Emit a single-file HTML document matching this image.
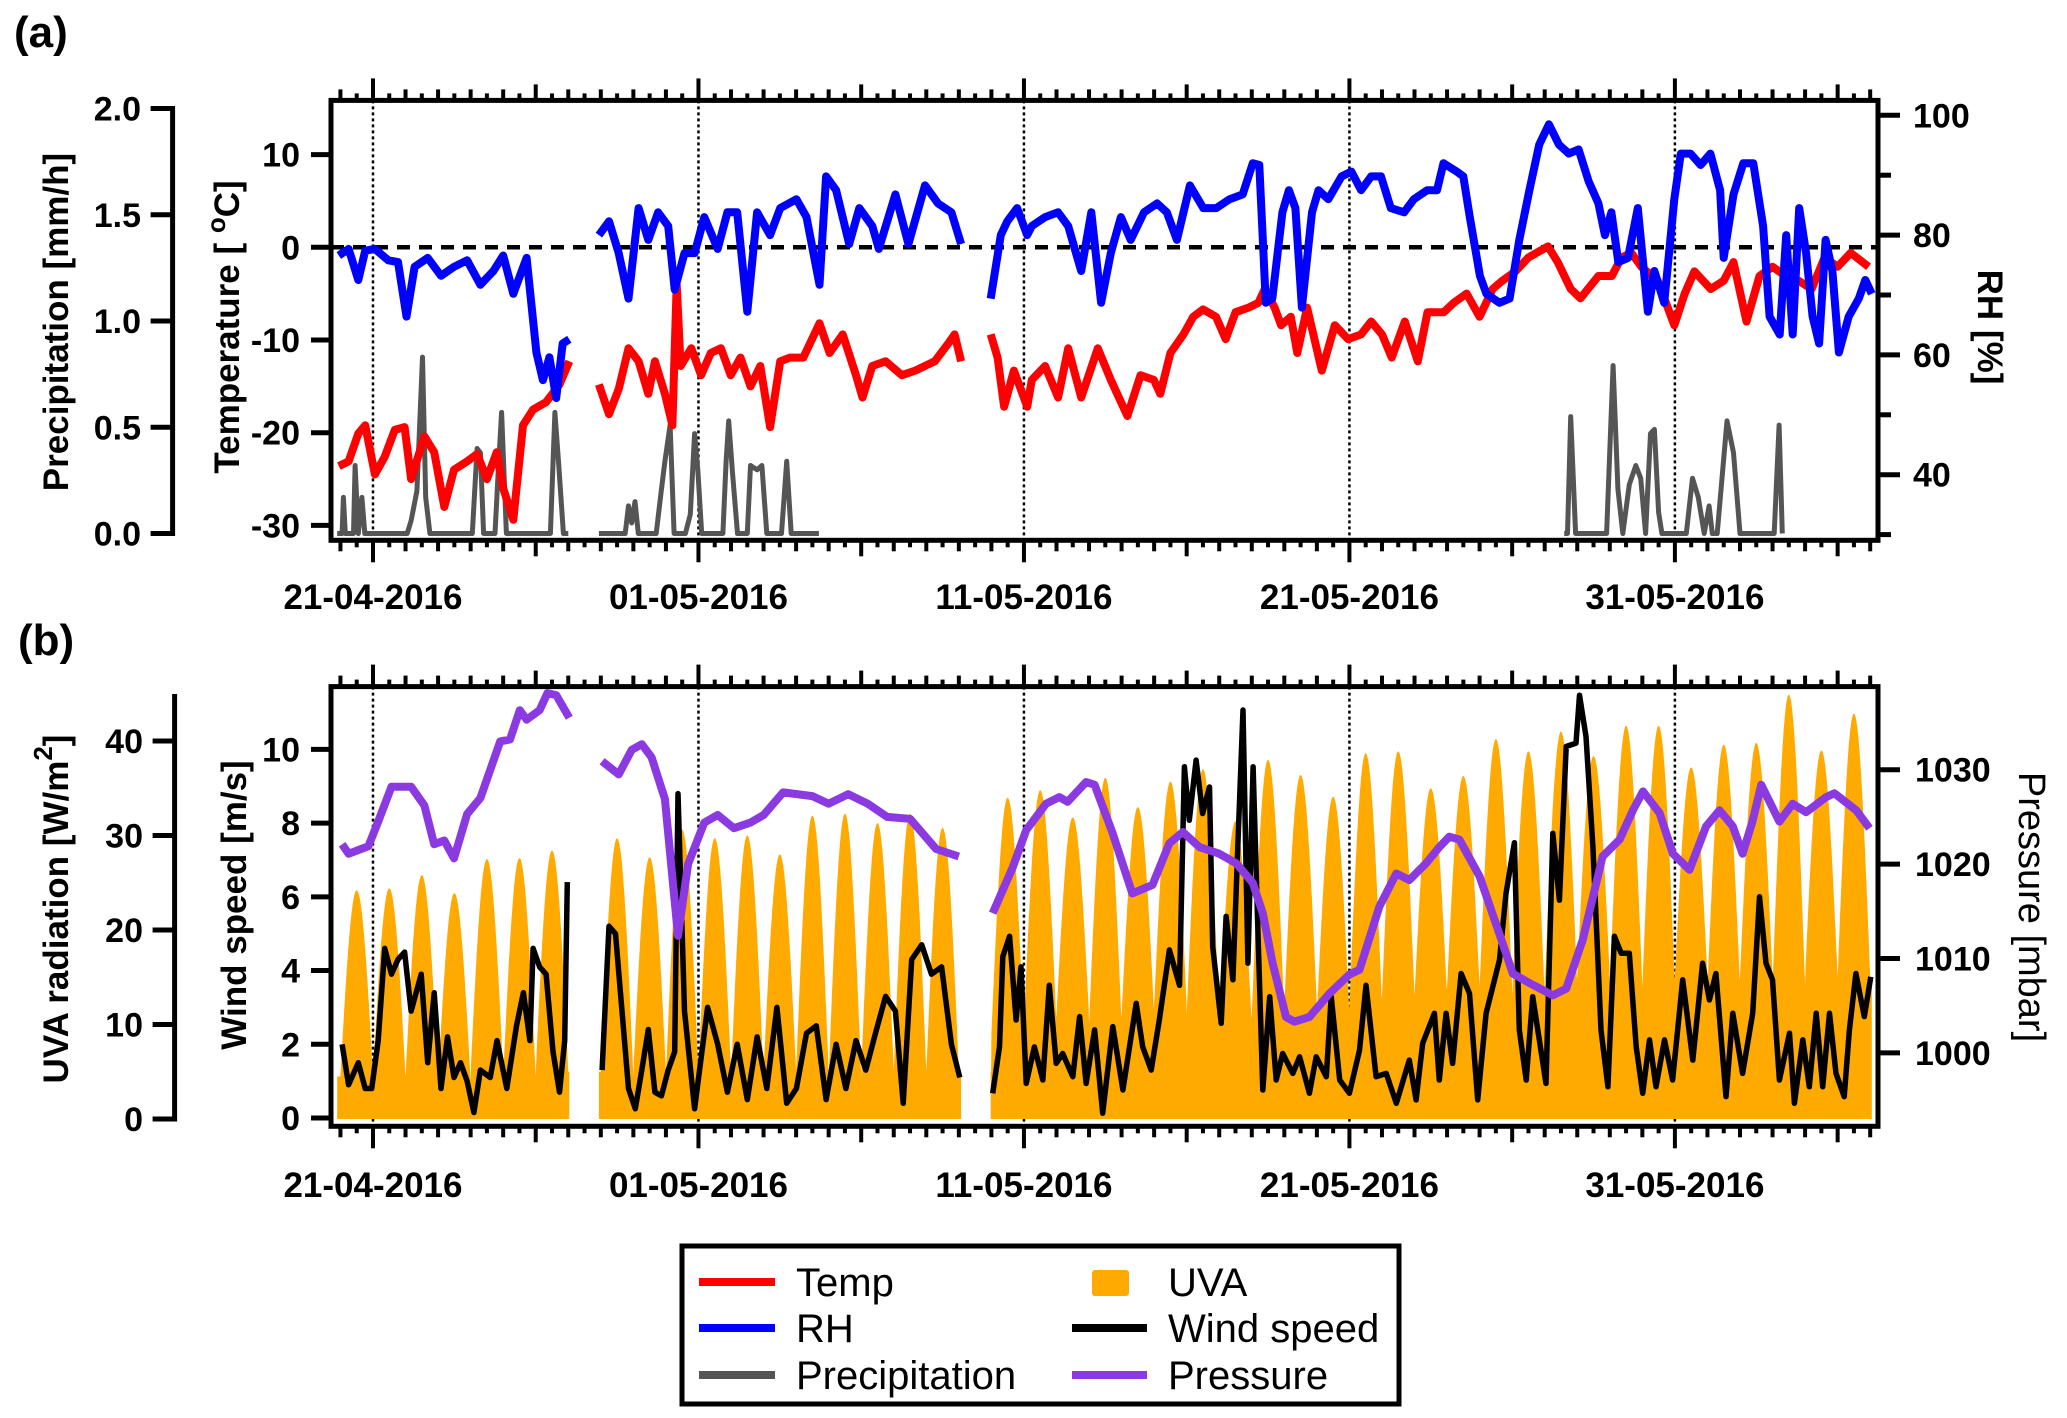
<!DOCTYPE html>
<html><head><meta charset="utf-8"><style>
html,body{margin:0;padding:0;background:#fff;}
svg{display:block;font-family:"Liberation Sans",Arial,sans-serif;}
.tk{font-size:34px;font-weight:bold;}
.tt{font-size:35px;font-weight:bold;}
.dl{font-size:35px;font-weight:bold;}
.lg{font-size:40px;}
</style></head><body>
<svg id="chart" width="2067" height="1418" viewBox="0 0 2067 1418">
<g id="gA"></g>
<g id="gB"></g>
<g id="legend">
  <rect x="682" y="1246" width="717" height="158" fill="#fff" stroke="#000" stroke-width="5"/>
  <g><line x1="699" y1="1282" x2="775" y2="1282" stroke="#ff0000" stroke-width="8"/><text class="lg" x="796" y="1296">Temp</text></g>
  <g><line x1="699" y1="1328" x2="775" y2="1328" stroke="#0000ff" stroke-width="8"/><text class="lg" x="796" y="1342">RH</text></g>
  <g><line x1="699" y1="1375" x2="775" y2="1375" stroke="#555" stroke-width="8"/><text class="lg" x="796" y="1389">Precipitation</text></g>
  <g><rect x="1092" y="1270" width="37" height="26" rx="3" fill="#ffaa00"/><text class="lg" x="1168" y="1296">UVA</text></g>
  <g><line x1="1072" y1="1328" x2="1147" y2="1328" stroke="#000" stroke-width="8"/><text class="lg" x="1168" y="1342">Wind speed</text></g>
  <g><line x1="1072" y1="1375" x2="1147" y2="1375" stroke="#8a3ae0" stroke-width="8"/><text class="lg" x="1168" y="1389">Pressure</text></g>
</g>
</svg>
<script>
// ---------- data ----------
const dateTickDays = [0, 10, 20, 30, 40];
const dateTickLabels = ["21-04-2016", "01-05-2016", "11-05-2016", "21-05-2016", "31-05-2016"];
const precipTicks = [0, 0.5, 1.0, 1.5, 2.0];
const tempTicks = [-30, -20, -10, 0, 10];
const rhMajorTicks = [40, 60, 80, 100];
const rhMinorTicks = [30, 50, 70, 90];
const uvaTicks = [0, 10, 20, 30, 40];
const windTicks = [0, 2, 4, 6, 8, 10];
const pressTicks = [1000, 1010, 1020, 1030];

const tempData = [[-1.05,-23.6],[-0.75,-23.1],[-0.45,-20.1],[-0.24,-19.2],[0.06,-24.5],[0.36,-22.6],[0.67,-19.7],[0.97,-19.4],[1.17,-25.0],[1.58,-20.4],[1.88,-22.1],[2.19,-28],[2.49,-24],[2.89,-23.1],[3.2,-22.3],[3.5,-25],[3.8,-22.1],[4.0,-26],[4.31,-29.4],[4.61,-19.2],[4.92,-17.5],[5.32,-16.7],[5.73,-14.8],[6.03,-12.3],null,
[6.94,-14.8],[7.25,-18],[7.55,-15.3],[7.85,-10.9],[8.16,-12.3],[8.46,-15.8],[8.66,-12.3],[8.97,-15.8],[9.2,-19.2],[9.33,-4],[9.45,-12.8],[9.78,-10.9],[10.08,-13.8],[10.38,-11.4],[10.69,-10.9],[10.99,-13.8],[11.29,-11.9],[11.6,-15],[11.9,-12.8],[12.2,-19.4],[12.51,-12.3],[12.81,-11.9],[13.22,-11.9],[13.72,-8.2],[14.03,-11.4],[14.43,-9.4],[14.84,-13.8],[15.04,-16.2],[15.34,-12.8],[15.75,-12.3],[16.25,-13.8],[16.66,-13.3],[17.26,-12.3],[17.67,-10.4],[17.87,-9.4],[18.07,-12.3],null,
[18.98,-9.4],[19.19,-11.9],[19.39,-17.2],[19.69,-13.3],[20.1,-17.2],[20.24,-14.3],[20.65,-12.8],[21.05,-16.2],[21.36,-10.9],[21.76,-16.2],[22.27,-10.9],[22.67,-14.3],[23.18,-18.2],[23.58,-13.8],[23.99,-14.3],[24.19,-15.8],[24.5,-11.4],[24.9,-9.4],[25.2,-7.5],[25.5,-6.7],[25.9,-7.5],[26.2,-9.9],[26.5,-7.0],[26.9,-6.5],[27.2,-6.0],[27.4,-4.5],[27.7,-6.5],[27.9,-8.4],[28.2,-7.5],[28.4,-11.4],[28.7,-6.5],[29.15,-13.3],[29.55,-8.4],[29.96,-9.9],[30.36,-9.4],[30.67,-8.0],[31.0,-9.4],[31.3,-11.9],[31.7,-8.0],[32.1,-12.3],[32.4,-7.0],[32.9,-7.0],[33.2,-6.0],[33.6,-5.0],[34.0,-7.5],[34.4,-4.5],[34.7,-3.6],[35.1,-2.6],[35.5,-1.1],[36.1,0.1],[36.4,-1.6],[36.8,-4.5],[37.1,-5.5],[37.65,-3.1],[38.06,-3.1],[38.36,-1.1],[38.66,-0.6],[38.97,-2.1],[39.47,-3.6],[39.98,-8.4],[40.3,-5.0],[40.6,-2.6],[41.1,-4.5],[41.5,-3.6],[41.8,-1.6],[42.2,-8.0],[42.6,-3.1],[43.0,-2.1],[43.4,-3.1],[43.8,-3.6],[44.2,-4.5],[44.6,-1.1],[45.0,-2.1],[45.4,-0.6],[45.95,-2.1]];

const rhData = [[-1.05,76.6],[-0.75,77.7],[-0.45,72.5],[-0.24,77.4],[0.06,77.7],[0.47,75.8],[0.77,75.5],[1.03,66.4],[1.28,74.7],[1.68,76.2],[2.09,73.2],[2.49,74.7],[2.89,75.8],[3.3,71.7],[3.7,74],[4.0,76.6],[4.31,70.2],[4.72,76.2],[5.02,60.4],[5.22,55.8],[5.42,59.6],[5.63,52.8],[5.83,61.9],[6.03,62.6],null,
[6.94,80],[7.25,82.3],[7.55,77],[7.85,69.4],[8.16,84.5],[8.46,79.2],[8.76,83.8],[9.07,81.5],[9.27,70.9],[9.57,77],[9.88,77],[10.18,83],[10.59,77.7],[10.89,83.8],[11.19,83.8],[11.5,67.2],[11.8,83.8],[12.2,80],[12.51,84.5],[13.01,86],[13.32,83],[13.72,71.7],[13.92,89.8],[14.23,87.5],[14.63,78.5],[14.94,84.5],[15.34,81.5],[15.54,77.7],[16.05,86.8],[16.45,78.5],[16.96,88.3],[17.36,85.3],[17.77,83.8],[18.07,78.5],null,
[18.98,69.4],[19.29,80],[19.49,82.3],[19.79,84.5],[20.1,80],[20.24,81.5],[20.65,83],[21.05,83.8],[21.36,81.5],[21.76,74],[22.07,83.8],[22.37,68.7],[22.67,77],[22.98,83],[23.28,79.2],[23.69,83.8],[24.09,85.3],[24.39,83.8],[24.7,79.2],[25.1,88.3],[25.51,84.5],[25.91,84.5],[26.32,86],[26.72,86.8],[27.03,92],[27.23,91.7],[27.43,68.7],[27.63,69.4],[27.94,83.8],[28.14,87.5],[28.34,84.5],[28.54,67.9],[28.85,83.8],[29.05,87.5],[29.35,86],[29.76,89.8],[30.06,90.6],[30.36,87.5],[30.67,89.8],[30.97,89.8],[31.27,84.5],[31.68,83.8],[31.98,86],[32.39,87.5],[32.69,87.5],[32.89,92],[33.3,90.6],[33.5,89.8],[33.7,83],[34.01,73.2],[34.21,70.2],[34.61,68.7],[34.92,69.4],[35.22,79.2],[35.53,87.5],[35.83,95.1],[36.13,98.5],[36.44,95.1],[36.74,93.6],[37.04,94.3],[37.35,89],[37.65,85.3],[37.85,80],[38.05,83.8],[38.26,75.5],[38.56,76.2],[38.86,84.5],[39.17,67.2],[39.37,74],[39.67,68.7],[39.98,86],[40.18,93.6],[40.48,93.6],[40.79,91.7],[41.09,93.6],[41.39,87.5],[41.5,76.2],[41.8,86.8],[42.1,92],[42.41,92],[42.71,81.5],[42.91,66.4],[43.22,63.4],[43.42,80],[43.62,63.4],[43.82,84.5],[44.03,77],[44.23,66.4],[44.43,61.9],[44.63,79.2],[44.84,74],[45.04,60.4],[45.34,66.4],[45.65,69.4],[45.85,72.5],[46.05,70.2]];

const precipData = [[-1.1,0],[-0.95,0],[-0.91,0.17],[-0.85,0],[-0.6,0],[-0.55,0.32],[-0.45,0],[-0.34,0.17],[-0.25,0],[1.05,0],[1.17,0.06],[1.35,0.2],[1.52,0.83],[1.62,0.17],[1.75,0],[3.05,0],[3.2,0.4],[3.3,0.38],[3.4,0],[3.75,0],[3.85,0.3],[3.95,0.57],[4.1,0],[5.45,0],[5.59,0.57],[5.7,0.34],[5.85,0],[6.0,0],null,
[6.94,0],[7.75,0],[7.85,0.13],[7.95,0.05],[8.05,0.15],[8.15,0],[8.7,0],[8.85,0.19],[8.97,0.34],[9.13,0.51],[9.25,0],[9.6,0],[9.75,0.09],[9.88,0.47],[9.98,0.3],[10.1,0],[10.75,0],[10.85,0.34],[10.93,0.53],[11.05,0.28],[11.2,0],[11.5,0],[11.6,0.32],[11.8,0.3],[11.95,0.32],[12.1,0],[12.55,0],[12.71,0.34],[12.85,0],[13.7,0],null,
[36.6,0],[36.7,0],[36.8,0.55],[36.95,0],[37.9,0],[38.1,0.79],[38.25,0.21],[38.4,0],[38.6,0.23],[38.8,0.32],[38.95,0.26],[39.1,0],[39.25,0.47],[39.37,0.49],[39.5,0.1],[39.6,0],[40.35,0],[40.54,0.26],[40.72,0.17],[40.9,0],[41.05,0.13],[41.15,0],[41.3,0],[41.6,0.53],[41.8,0.38],[42.0,0],[43.05,0],[43.2,0.51],[43.3,0]];

// UVA daily peaks / night minima, for days -1 .. 45 (null = no data)
const uvaFirstDay = -1;
const uvaPeak = [24.2,24.4,25.8,23.9,27.5,27.6,28.4,null,29.7,27.7,30.6,29.7,30.0,28.0,32.1,32.3,31.3,32.3,30.8,null,34.0,34.8,31.9,36.1,33.0,35.7,37,31.5,38,36.4,34.1,38.7,38.9,35,36.3,40.2,38.9,41,38.4,41.6,41.6,37.2,39.6,39.8,44.9,39.0,42.9];
const uvaMin  = [4.5,4.5,4.5,4,5,4.5,5,null,4.5,5,4.5,5,4.5,5,5,4.5,5,5,5,null,9,10,11,10,11,12,11,10,11,12,11,12,13,13,14,14,13,14,15,14,14,15,14,15,14,15,15];
const uvaSegments = [[-1.1,6.03],[6.94,18.07],[18.98,46.05]];

const windData = [[-0.95,2.0],[-0.75,0.9],[-0.45,1.5],[-0.24,0.8],[-0.04,0.8],[0.16,2.1],[0.36,4.6],[0.57,3.9],[0.77,4.3],[0.97,4.5],[1.17,2.9],[1.48,3.9],[1.68,1.5],[1.88,3.4],[2.09,0.8],[2.29,2.2],[2.49,1.1],[2.69,1.5],[2.89,1.0],[3.1,0.15],[3.3,1.3],[3.6,1.1],[3.81,2.1],[4.11,0.8],[4.41,2.5],[4.62,3.4],[4.82,2.1],[4.92,4.6],[5.12,4.1],[5.32,3.9],[5.53,1.8],[5.73,0.7],[5.89,2.1],[5.97,6.4],null,
[7.04,1.3],[7.25,5.2],[7.45,5.0],[7.65,2.9],[7.85,0.8],[8.06,0.25],[8.26,1.3],[8.46,2.4],[8.66,0.7],[8.86,0.6],[9.07,1.3],[9.27,1.8],[9.37,8.8],[9.57,2.9],[9.88,0.25],[10.28,3.0],[10.59,2.0],[10.89,0.7],[11.19,2.0],[11.5,0.5],[11.8,2.2],[12.1,0.8],[12.41,3.0],[12.71,0.4],[13.01,0.8],[13.32,2.3],[13.62,2.5],[13.92,0.5],[14.23,2.0],[14.53,0.8],[14.84,2.1],[15.14,1.3],[15.44,2.3],[15.75,3.3],[16.05,2.9],[16.29,0.4],[16.55,4.3],[16.86,4.7],[17.16,3.9],[17.47,4.1],[17.77,2.0],[18.03,1.1],null,
[19.04,0.67],[19.25,1.93],[19.35,4.38],[19.56,4.93],[19.76,2.66],[19.91,4.1],[20.07,0.94],[20.32,1.93],[20.58,1.03],[20.78,3.6],[20.99,1.48],[21.19,1.75],[21.5,1.12],[21.71,2.75],[21.91,0.94],[22.17,2.39],[22.42,0.13],[22.73,2.48],[23.04,0.76],[23.45,3.11],[23.65,1.93],[23.91,1.3],[24.16,2.66],[24.47,4.56],[24.78,3.6],[24.93,9.53],[25.08,8.08],[25.29,9.71],[25.49,8.26],[25.7,8.98],[25.8,4.65],[26.06,2.57],[26.21,5.47],[26.42,3.75],[26.57,7.36],[26.73,11.07],[26.88,4.2],[27.04,9.53],[27.19,5.0],[27.34,0.76],[27.55,3.29],[27.75,1.03],[27.95,1.75],[28.26,1.21],[28.47,1.66],[28.77,0.67],[28.98,1.66],[29.29,1.12],[29.44,3.29],[29.7,1.03],[30.0,0.67],[30.31,1.84],[30.51,3.6],[30.82,1.12],[31.13,1.21],[31.44,0.4],[31.84,1.57],[32.05,0.49],[32.25,2.03],[32.61,2.84],[32.76,1.03],[32.97,2.84],[33.17,1.48],[33.43,3.92],[33.69,3.38],[33.94,0.49],[34.2,2.84],[34.61,4.29],[34.81,6.09],[35.07,7.47],[35.22,2.39],[35.43,1.03],[35.63,3.29],[36.04,0.94],[36.25,7.72],[36.45,5.91],[36.66,10.08],[36.96,10.17],[37.07,11.47],[37.27,10.35],[37.48,7.36],[37.73,2.39],[37.94,0.85],[38.14,4.93],[38.35,4.47],[38.6,4.47],[38.81,1.93],[39.01,0.67],[39.22,2.12],[39.42,0.85],[39.68,2.12],[39.93,1.03],[40.24,3.75],[40.55,1.57],[40.85,4.2],[41.06,3.2],[41.26,3.92],[41.57,0.58],[41.78,2.84],[42.08,1.21],[42.39,2.84],[42.6,6.0],[42.8,4.2],[43.0,3.75],[43.21,1.03],[43.52,2.3],[43.67,0.4],[43.93,2.12],[44.13,0.85],[44.34,2.84],[44.54,0.85],[44.75,2.84],[44.95,1.21],[45.2,0.58],[45.36,2.39],[45.56,3.92],[45.82,2.75],[46.02,3.83]];

const pressData = [[-0.95,1022.1],[-0.75,1021.1],[-0.14,1021.9],[0.16,1024.5],[0.57,1028.2],[1.17,1028.2],[1.58,1026.2],[1.88,1022.1],[2.19,1022.5],[2.49,1020.6],[2.89,1025.3],[3.3,1027.0],[3.91,1033.0],[4.21,1033.2],[4.51,1036.3],[4.72,1035.3],[5.12,1036.3],[5.36,1038.1],[5.63,1037.9],[6.03,1035.5],null,
[7.04,1030.9],[7.55,1029.5],[7.95,1032.1],[8.26,1032.7],[8.56,1031.3],[8.97,1026.9],[9.37,1012.4],[9.68,1020.0],[10.18,1024.4],[10.59,1025.2],[11.09,1023.8],[11.6,1024.4],[12.0,1025.2],[12.6,1027.6],[13.5,1027.2],[14.0,1026.4],[14.6,1027.4],[15.2,1026.4],[15.8,1025.0],[16.5,1024.8],[17.3,1021.6],[18.0,1020.8],null,
[19.04,1014.8],[19.66,1019.7],[20.07,1023.6],[20.68,1026.4],[21.09,1027.1],[21.34,1026.6],[21.91,1028.7],[22.17,1028.4],[22.72,1023.3],[23.33,1016.9],[23.95,1017.8],[24.47,1022.2],[24.88,1023.4],[25.39,1021.8],[26.0,1021.1],[26.52,1020.1],[27.03,1018.0],[27.34,1014.8],[27.64,1009.5],[28.05,1003.8],[28.31,1003.3],[28.77,1003.8],[29.39,1006.3],[30.0,1008.3],[30.31,1008.8],[30.92,1015.5],[31.44,1019.0],[31.84,1018.3],[32.36,1020.1],[32.76,1021.8],[33.07,1022.9],[33.38,1022.6],[34.0,1018.7],[34.6,1012.7],[35.02,1008.4],[35.53,1007.4],[36.25,1006.1],[36.66,1006.8],[37.17,1012.0],[37.78,1020.8],[38.3,1022.6],[38.71,1025.7],[39.02,1027.7],[39.53,1025.4],[39.94,1021.1],[40.45,1019.4],[40.96,1024.0],[41.37,1025.7],[41.78,1024.0],[42.08,1021.1],[42.39,1024.6],[42.65,1028.4],[43.21,1024.5],[43.62,1026.4],[44.03,1025.5],[44.65,1027.1],[44.9,1027.5],[45.57,1025.7],[45.98,1023.8]];

// ---------- axes ----------
const NS = "http://www.w3.org/2000/svg";
const X0 = 331, X1 = 1878;
const dayMin = -1.29, dayMax = 46.24;
function xS(d){ return X0 + (d - dayMin) / (dayMax - dayMin) * (X1 - X0); }
const yTemp = v => 247.3 - v * 9.27;
const yRH = v => 235.1 - (v - 80) * 5.99;
const yPrec = v => 533.5 - v * 212.5;
const yWind = v => 1118 - v * 36.86;
const yUVA = v => 1119 - v * 9.45;
const yPress = v => 1052.9 - (v - 1000) * 9.44;

function el(parent, tag, attrs, text){
  const e = document.createElementNS(NS, tag);
  for (const k in attrs) e.setAttribute(k, attrs[k]);
  if (text !== undefined) e.textContent = text;
  parent.appendChild(e);
  return e;
}
function linePath(data, yf){
  let d = "", pen = false;
  for (const p of data){
    if (p === null){ pen = false; continue; }
    d += (pen ? "L" : "M") + xS(p[0]).toFixed(1) + "," + yf(p[1]).toFixed(1);
    pen = true;
  }
  return d;
}

function panel(g, top, bot, dateY){
  dateTickDays.forEach(d => {
    const l = el(g, "line", {x1:xS(d), x2:xS(d), y1:top, y2:bot, stroke:"#000", "stroke-width":2.5, "stroke-dasharray":"3 3"});
    
    
  });
  for (let i = -2; i <= 92; i++){
    const d = i / 2;
    if (d < -1.05 || d > 46.1) continue;
    let len = 7;
    if (i % 2 === 0) len = 11;
    if (i % 10 === 0) len = 16;
    if (i % 20 === 0) len = 22;
    el(g, "line", {x1:xS(d), x2:xS(d), y1:top, y2:top - len, stroke:"#000", "stroke-width":4});
    el(g, "line", {x1:xS(d), x2:xS(d), y1:bot, y2:bot + len, stroke:"#000", "stroke-width":4});
  }
  dateTickDays.forEach((d, i) => {
    const t = el(g, "text", {x:xS(d), y:dateY + 12, "text-anchor":"middle", class:"dl"}, dateTickLabels[i]);
    
    
  });
}
function frame(g, top, bot){
  const r = el(g, "rect", {x:X0, y:top, width:X1 - X0, height:bot - top, fill:"none", stroke:"#000", "stroke-width":5});
  
  
}
function yTicksLeft(g, ticks, yf, xAxis, len, labelX, fmt){
  ticks.forEach(v => {
    el(g, "line", {x1:xAxis - len, x2:xAxis, y1:yf(v), y2:yf(v), stroke:"#000", "stroke-width":5});
    const t = el(g, "text", {x:labelX, y:yf(v) + 12, "text-anchor":"end", class:"tk"}, fmt(v));
    
    
  });
}
function yTicksRight(g, ticks, yf, len, labelX, withLabel){
  ticks.forEach(v => {
    el(g, "line", {x1:X1, x2:X1 + len, y1:yf(v), y2:yf(v), stroke:"#000", "stroke-width":5});
    if (withLabel){
      const t = el(g, "text", {x:labelX, y:yf(v) + 12, class:"tk"}, String(v));
      
      
    }
  });
}
function vTitle(g, x, y, rot, txt, cls, name, extra){
  const t = el(g, "text", {x:0, y:0, "text-anchor":"middle", class:cls, transform:`translate(${x},${y}) rotate(${rot})`});
  
  
  t.innerHTML = txt;
  if (extra) for (const k in extra) t.setAttribute(k, extra[k]);
  return t;
}

// ---------- panel a ----------
const gA = document.getElementById("gA");
const aTop = 100.4, aBot = 540.3;
el(gA, "text", {x:14, y:47, style:"font-size:44px;font-weight:bold"}, "(a)");
panel(gA, aTop, aBot, 597);
const zl = el(gA, "line", {x1:X0, x2:X1, y1:yTemp(0), y2:yTemp(0), stroke:"#000", "stroke-width":4.5, "stroke-dasharray":"13 9"});


const pPrec = el(gA, "path", {d:linePath(precipData, yPrec), fill:"none", stroke:"#555", "stroke-width":5, "stroke-linejoin":"round"});


const pTemp = el(gA, "path", {d:linePath(tempData, yTemp), fill:"none", stroke:"#ff0000", "stroke-width":8, "stroke-linejoin":"round"});


const pRH = el(gA, "path", {d:linePath(rhData, yRH), fill:"none", stroke:"#0000ff", "stroke-width":8, "stroke-linejoin":"round"});


frame(gA, aTop, aBot);
const pax = el(gA, "line", {x1:172.6, x2:172.6, y1:yPrec(2.0) - 2.5, y2:yPrec(0) + 2.5, stroke:"#000", "stroke-width":5});


yTicksLeft(gA, precipTicks, yPrec, 172.6, 22, 141, v => v.toFixed(1));
yTicksLeft(gA, tempTicks, yTemp, X0, 20, 300, v => String(v));
yTicksRight(gA, rhMajorTicks, yRH, 22, 1913, true);
yTicksRight(gA, rhMinorTicks, yRH, 13, 0, false);
vTitle(gA, 68, 322, -90, "Precipitation [mm/h]", "tt", "precipitation-axis-title");
vTitle(gA, 239, 327, -90, 'Temperature [ <tspan dy="-14" style="font-size:26px">o</tspan><tspan dy="14">C]</tspan>', "tt", "temperature-axis-title");
vTitle(gA, 1978, 327, 90, "RH [%]", "tt", "rh-axis-title");

// ---------- panel b ----------
const gB = document.getElementById("gB");
const bTop = 686.6, bBot = 1126.3;
el(gB, "text", {x:18, y:655, style:"font-size:44px;font-weight:bold"}, "(b)");
panel(gB, bTop, bBot, 1185);
uvaSegments.forEach(seg => {
  let d = `M${xS(seg[0]).toFixed(1)},${yUVA(0)}`;
  for (let t = seg[0]; t <= seg[1] + 1e-9; t += 0.01){
    const day = Math.floor(t);
    const idx = day - uvaFirstDay;
    const pk = uvaPeak[idx], mn = uvaMin[idx];
    let v = 0;
    if (pk != null){
      const f = Math.min(Math.max(t - day, 0), 1);
      v = mn + (pk - mn) * Math.pow(Math.sin(Math.PI * f), 1.0);
    } else {
      v = uvaMin[idx - 1] != null ? uvaMin[idx - 1] : uvaMin[idx + 1];
    }
    d += `L${xS(t).toFixed(1)},${yUVA(v).toFixed(1)}`;
  }
  d += `L${xS(seg[1]).toFixed(1)},${yUVA(0)}Z`;
  const p = el(gB, "path", {d:d, fill:"#ffaa00", stroke:"none"});
  
  
});
const pWind = el(gB, "path", {d:linePath(windData, yWind), fill:"none", stroke:"#000", "stroke-width":5.5, "stroke-linejoin":"round"});


const pPress = el(gB, "path", {d:linePath(pressData, yPress), fill:"none", stroke:"#8a3ae0", "stroke-width":8, "stroke-linejoin":"round"});


frame(gB, bTop, bBot);
const uax = el(gB, "line", {x1:174.6, x2:174.6, y1:694, y2:yUVA(0) + 2.5, stroke:"#000", "stroke-width":5});


yTicksLeft(gB, uvaTicks, yUVA, 174.6, 22, 143, v => String(v));
yTicksLeft(gB, windTicks, yWind, X0, 20, 300, v => String(v));
yTicksRight(gB, pressTicks, yPress, 22, 1915, true);
vTitle(gB, 68, 909, -90, 'UVA radiation [W/m<tspan dy="-16" style="font-size:26px">2</tspan><tspan dy="16">]</tspan>', "tt", "uva-axis-title");
vTitle(gB, 246, 905, -90, "Wind speed [m/s]", "tt", "wind-speed-axis-title");
vTitle(gB, 2019, 907, 90, "Pressure [mbar]", "tt", "pressure-axis-title", {style:"font-weight:normal;font-size:38px"});
</script>
</body></html>
